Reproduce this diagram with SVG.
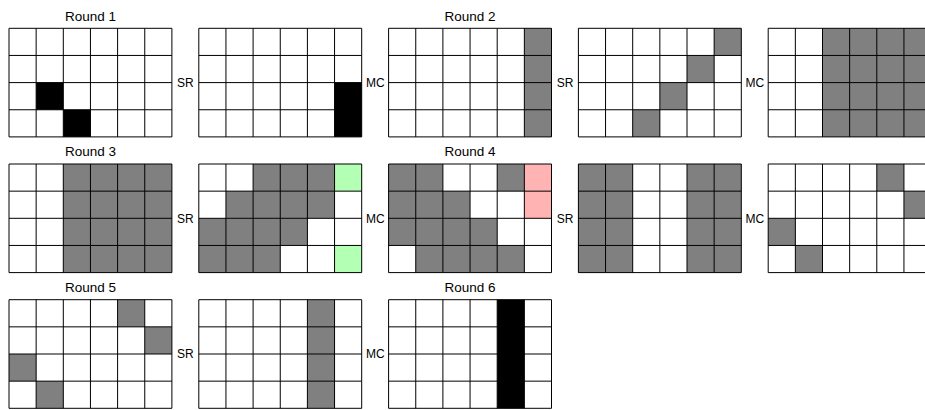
<svg xmlns="http://www.w3.org/2000/svg" xmlns:xlink="http://www.w3.org/1999/xlink" width="925" height="410" viewBox="0 0 925 410">
<style>
.bg{fill:#fff}
.g{fill:#808080}
.k{fill:#000}
.gr{fill:#b3ffb3}
.pk{fill:#ffb3b3}
.ln{fill:none;stroke:#000;stroke-width:1}
.rt{font-family:"Liberation Sans",Arial,sans-serif;font-size:13.5px;fill:#000;text-anchor:middle}
.op{font-family:"Liberation Sans",Arial,sans-serif;font-size:12px;fill:#000;text-anchor:middle}
</style>
<defs>
<path id="lines" class="ln" d="M0,0H162.9V108.6H0Z M27.15,0V108.6 M54.3,0V108.6 M81.45,0V108.6 M108.6,0V108.6 M135.75,0V108.6 M0,27.15H162.9 M0,54.3H162.9 M0,81.45H162.9"/>
<rect id="bgr" class="bg" x="0" y="0" width="162.9" height="108.6"/>
</defs>
<rect x="0" y="0" width="925" height="410" fill="#fff"/>

<g id="labels">
<text class="rt" x="90.5" y="20.5">Round 1</text>
<text class="rt" x="470" y="20.5">Round 2</text>
<text class="rt" x="90.5" y="156.2">Round 3</text>
<text class="rt" x="470" y="156.2">Round 4</text>
<text class="rt" x="90.5" y="291.9">Round 5</text>
<text class="rt" x="470" y="291.9">Round 6</text>
<text class="op" x="185.4" y="86.9">SR</text>
<text class="op" x="375.3" y="86.9">MC</text>
<text class="op" x="565.1" y="86.9">SR</text>
<text class="op" x="754.9" y="86.9">MC</text>
<text class="op" x="185.4" y="222.6">SR</text>
<text class="op" x="375.3" y="222.6">MC</text>
<text class="op" x="565.1" y="222.6">SR</text>
<text class="op" x="754.9" y="222.6">MC</text>
<text class="op" x="185.4" y="358.3">SR</text>
<text class="op" x="375.3" y="358.3">MC</text>
</g>

<!-- Row 1 -->
<g id="r1g1" transform="translate(9,28.3)">
<use xlink:href="#bgr"/>
<rect class="k" x="27.15" y="54.3" width="27.15" height="27.15"/>
<rect class="k" x="54.3" y="81.45" width="27.15" height="27.15"/>
<use xlink:href="#lines"/>
</g>
<g id="r1g2" transform="translate(198.8,28.3)">
<use xlink:href="#bgr"/>
<rect class="k" x="135.75" y="54.3" width="27.15" height="54.3"/>
<use xlink:href="#lines"/>
</g>
<g id="r1g3" transform="translate(388.6,28.3)">
<use xlink:href="#bgr"/>
<rect class="g" x="135.75" y="0" width="27.15" height="108.6"/>
<use xlink:href="#lines"/>
</g>
<g id="r1g4" transform="translate(578.4,28.3)">
<use xlink:href="#bgr"/>
<rect class="g" x="135.75" y="0" width="27.15" height="27.15"/>
<rect class="g" x="108.6" y="27.15" width="27.15" height="27.15"/>
<rect class="g" x="81.45" y="54.3" width="27.15" height="27.15"/>
<rect class="g" x="54.3" y="81.45" width="27.15" height="27.15"/>
<use xlink:href="#lines"/>
</g>
<g id="r1g5" transform="translate(768.2,28.3)">
<use xlink:href="#bgr"/>
<rect class="g" x="54.3" y="0" width="108.6" height="108.6"/>
<use xlink:href="#lines"/>
</g>

<!-- Row 2 -->
<g id="r2g1" transform="translate(9,164)">
<use xlink:href="#bgr"/>
<rect class="g" x="54.3" y="0" width="108.6" height="108.6"/>
<use xlink:href="#lines"/>
</g>
<g id="r2g2" transform="translate(198.8,164)">
<use xlink:href="#bgr"/>
<rect class="g" x="54.3" y="0" width="81.45" height="27.15"/>
<rect class="gr" x="135.75" y="0" width="27.15" height="27.15"/>
<rect class="g" x="27.15" y="27.15" width="108.6" height="27.15"/>
<rect class="g" x="0" y="54.3" width="108.6" height="27.15"/>
<rect class="g" x="0" y="81.45" width="81.45" height="27.15"/>
<rect class="gr" x="135.75" y="81.45" width="27.15" height="27.15"/>
<use xlink:href="#lines"/>
</g>
<g id="r2g3" transform="translate(388.6,164)">
<use xlink:href="#bgr"/>
<rect class="g" x="0" y="0" width="54.3" height="27.15"/>
<rect class="g" x="108.6" y="0" width="27.15" height="27.15"/>
<rect class="pk" x="135.75" y="0" width="27.15" height="54.3"/>
<rect class="g" x="0" y="27.15" width="81.45" height="27.15"/>
<rect class="g" x="0" y="54.3" width="108.6" height="27.15"/>
<rect class="g" x="27.15" y="81.45" width="108.6" height="27.15"/>
<use xlink:href="#lines"/>
</g>
<g id="r2g4" transform="translate(578.4,164)">
<use xlink:href="#bgr"/>
<rect class="g" x="0" y="0" width="54.3" height="108.6"/>
<rect class="g" x="108.6" y="0" width="54.3" height="108.6"/>
<use xlink:href="#lines"/>
</g>
<g id="r2g5" transform="translate(768.2,164)">
<use xlink:href="#bgr"/>
<rect class="g" x="108.6" y="0" width="27.15" height="27.15"/>
<rect class="g" x="135.75" y="27.15" width="27.15" height="27.15"/>
<rect class="g" x="0" y="54.3" width="27.15" height="27.15"/>
<rect class="g" x="27.15" y="81.45" width="27.15" height="27.15"/>
<use xlink:href="#lines"/>
</g>

<!-- Row 3 -->
<g id="r3g1" transform="translate(9,299.7)">
<use xlink:href="#bgr"/>
<rect class="g" x="108.6" y="0" width="27.15" height="27.15"/>
<rect class="g" x="135.75" y="27.15" width="27.15" height="27.15"/>
<rect class="g" x="0" y="54.3" width="27.15" height="27.15"/>
<rect class="g" x="27.15" y="81.45" width="27.15" height="27.15"/>
<use xlink:href="#lines"/>
</g>
<g id="r3g2" transform="translate(198.8,299.7)">
<use xlink:href="#bgr"/>
<rect class="g" x="108.6" y="0" width="27.15" height="108.6"/>
<use xlink:href="#lines"/>
</g>
<g id="r3g3" transform="translate(388.6,299.7)">
<use xlink:href="#bgr"/>
<rect class="k" x="108.6" y="0" width="27.15" height="108.6"/>
<use xlink:href="#lines"/>
</g>
</svg>
